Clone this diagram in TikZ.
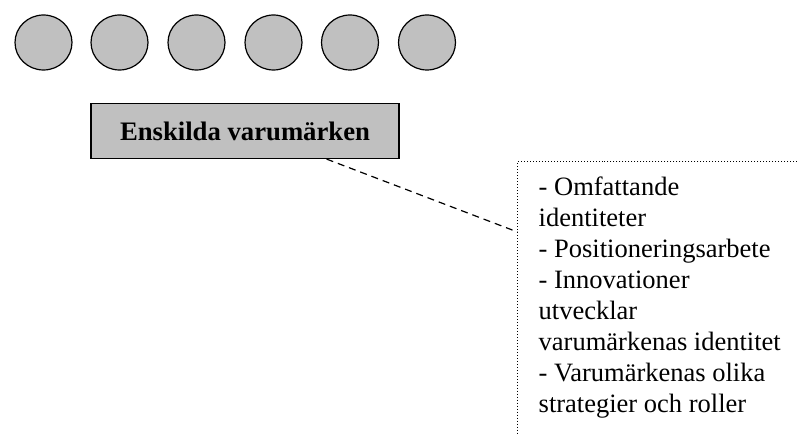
\documentclass[tikz,border=0pt]{standalone}
\usetikzlibrary{shapes.geometric}
\usepackage{fontspec}
\setmainfont{Liberation Serif}
\definecolor{lightgrey}{RGB}{192,192,192}
\begin{document}
\begin{tikzpicture}[x=1bp,y=-1bp,
  brand/.style={ellipse,draw=black,line width=1.2bp,fill=lightgrey,minimum width=57bp,minimum height=55bp,inner sep=0pt},
  mainbox/.style={rectangle,draw=black,line width=1.2bp,fill=lightgrey,minimum width=308bp,minimum height=55bp,inner sep=0pt,font=\fontsize{26.8}{30}\selectfont\bfseries},
  calloutframe/.style={draw=black,dotted,line width=1bp},
  callouttext/.style={anchor=north west,align=left,inner sep=0pt,font=\fontsize{26.6}{31}\selectfont}
]
\useasboundingbox (0,0) rectangle (797,434);
\clip (0,0) rectangle (797,434);
\foreach \i/\x in {1/43.5,2/119.5,3/196.5,4/273.5,5/350,6/427}{
  \node[brand] (c\i) at (\x,42.5) {};
}
\node[mainbox] (eb) at (245,131) {Enskilda varumärken};
\coordinate (lineStart) at ([xshift=-73bp]eb.south east);
\coordinate (calloutTL) at (517.5,161.5);
\coordinate (calloutPt) at (517.5,232);
\draw[calloutframe] (800,161.5) -- (calloutTL) -- (517.5,440);
\draw[line width=1.2bp,dash pattern=on 7bp off 5bp] (lineStart) -- (calloutPt);
\node[callouttext] (txt) at (538.5,177) {- Omfattande\\identiteter\\- Positioneringsarbete\\- Innovationer\\utvecklar\\varumärkenas identitet\\- Varumärkenas olika\\strategier och roller};
\end{tikzpicture}
\end{document}
